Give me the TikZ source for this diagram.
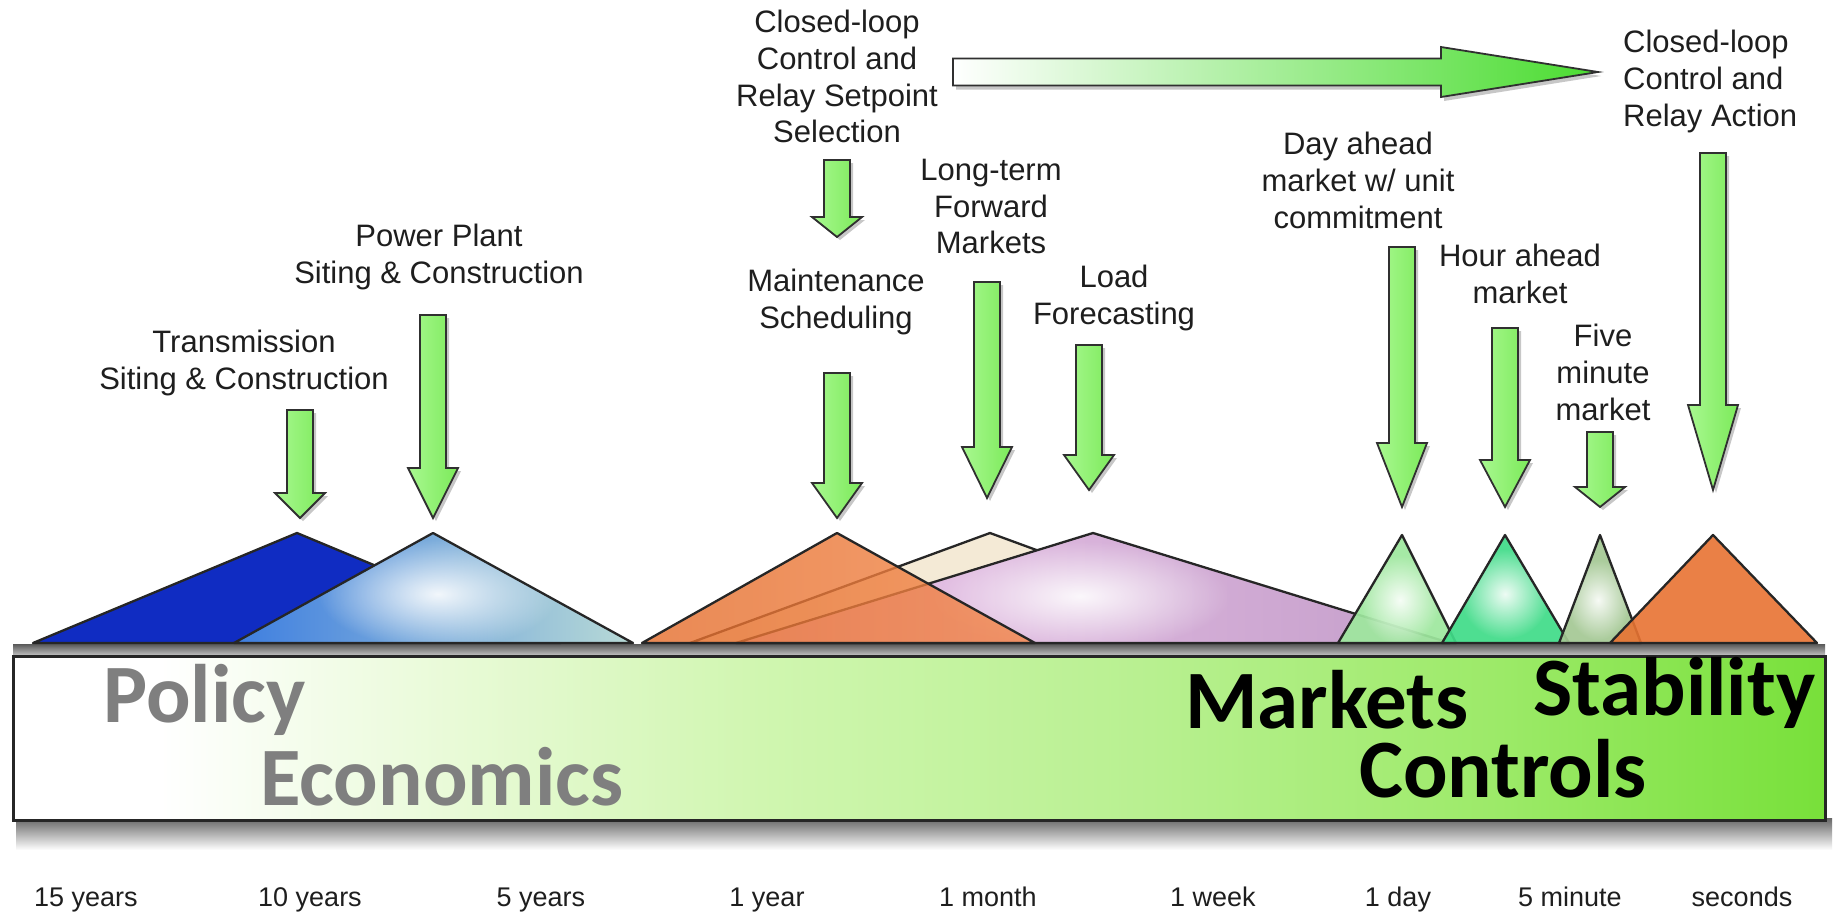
\documentclass[tikz,border=0pt]{standalone}
\usepackage{fontspec}
\setmainfont{Liberation Sans}
\newfontfamily\barfont{Carlito}
\usetikzlibrary{calc,shadows,fadings}
\definecolor{labelc}{HTML}{1E1E1E}
\definecolor{triline}{HTML}{262626}
\definecolor{arrowline}{HTML}{303030}
\definecolor{agL}{HTML}{A8F890}
\definecolor{agR}{HTML}{7CEA5A}
\definecolor{hgR}{HTML}{4ADC30}
\definecolor{blueT}{HTML}{102CC2}
\definecolor{lbL}{HTML}{3E7EE0}
\definecolor{lbR}{HTML}{B8DAD6}
\definecolor{creamT}{HTML}{F4EAD6}
\definecolor{pinkL}{HTML}{ECC6EA}
\definecolor{pinkR}{HTML}{C49ECA}
\definecolor{orangeL}{HTML}{E46C2A}
\definecolor{orangeR}{HTML}{F4884A}
\definecolor{greenA}{HTML}{9EE89E}
\definecolor{greenB}{HTML}{40DC88}
\definecolor{greenC}{HTML}{A4C894}
\definecolor{barA}{HTML}{E8FAD6}
\definecolor{barB}{HTML}{D0F6B0}
\definecolor{barC}{HTML}{B8F090}
\definecolor{barD}{HTML}{9CEA68}
\definecolor{barE}{HTML}{78E03A}
\definecolor{grayT}{HTML}{7F7F7F}
\tikzfading[name=glowfade, inner color=transparent!0, outer color=transparent!100]
\newcommand{\downblock}[3]{%
  \path[blockarrow] ($(#1)+(-13,0)$) -- ($(#2)+(-13,-#3)$) -- ($(#2)+(-25,-#3)$) -- (#2)
    -- ($(#2)+(25,-#3)$) -- ($(#2)+(13,-#3)$) -- ($(#1)+(13,0)$) -- cycle;}
\newcommand{\glowtri}[6]{%
  \path[#1] #2 -- #3 -- #4 -- cycle;
  \begin{scope}
    \clip #2 -- #3 -- #4 -- cycle;
    \fill[white, path fading=glowfade, fill opacity=0.9] #5 ellipse [#6];
  \end{scope}
  \draw[triedge] #2 -- #3 -- #4 -- cycle;}
\begin{document}
\begin{tikzpicture}[x=1pt,y=-1pt,
  lbl/.style={anchor=north, inner sep=0pt, align=center, text=labelc,
    font=\fontsize{31}{36.7}\selectfont},
  tlbl/.style={anchor=base, inner sep=0pt, text=labelc, font=\fontsize{27}{30}\selectfont},
  bartxt/.style={anchor=base west, inner sep=0pt, font=\barfont\bfseries\fontsize{83}{90}\selectfont},
  triedge/.style={draw=triline, line width=2.3pt, line join=round},
  blockarrow/.style={draw=arrowline, line width=1.8pt, line join=miter,
    left color=agL, right color=agR,
    drop shadow={shadow xshift=3pt, shadow yshift=-3pt, opacity=0.22, fill=black}},
  hblock/.style={draw=arrowline, line width=1.8pt, line join=miter,
    left color=white, right color=hgR,
    drop shadow={shadow xshift=3pt, shadow yshift=-4pt, opacity=0.22, fill=black}}]
\useasboundingbox (0,0) rectangle (1837,914);
\fill[white] (0,0) rectangle (1837,914);

% ---- labels ----
\node[lbl] (lblT) at (244,330) {Transmission\\Siting \& Construction};
\node[lbl] (lblP) at (439,224) {Power Plant\\Siting \& Construction};
\node[lbl] (lblS) at (837,10) {Closed-loop\\Control and\\Relay Setpoint\\Selection};
\node[lbl] (lblM) at (836,269) {Maintenance\\Scheduling};
\node[lbl] (lblL) at (991,159) {Long-term\\Forward\\Markets};
\node[lbl] (lblF) at (1114,265) {Load\\Forecasting};
\node[lbl] (lblD) at (1358,132) {Day ahead\\market w/ unit\\commitment};
\node[lbl] (lblH) at (1520,244) {Hour ahead\\market};
\node[lbl] (lblV) at (1603,324) {Five\\minute\\market};
\node[lbl, anchor=north west, align=left] (lblR) at (1623,30) {Closed-loop\\Control and\\Relay Action};

% ---- arrow coordinates ----
\coordinate (aT1) at (300,410);  \coordinate (aT2) at (300,518);
\coordinate (aP1) at (433,315);  \coordinate (aP2) at (433,518);
\coordinate (aS1) at (837,160);  \coordinate (aS2) at (837,237);
\coordinate (aM1) at (837,373);  \coordinate (aM2) at (837,518);
\coordinate (aL1) at (987,282);  \coordinate (aL2) at (987,498);
\coordinate (aF1) at (1089,345); \coordinate (aF2) at (1089,490);
\coordinate (aD1) at (1402,247); \coordinate (aD2) at (1402,507);
\coordinate (aH1) at (1505,328); \coordinate (aH2) at (1505,507);
\coordinate (aV1) at (1600,432); \coordinate (aV2) at (1600,507);
\coordinate (aR1) at (1713,153); \coordinate (aR2) at (1713,490);
\coordinate (hL) at (953,72);    \coordinate (hR) at (1598,72);

% ---- horizontal arrow ----
\path[hblock] ($(hL)+(0,-13.5)$) -- ($(hR)+(-157,-13.5)$) -- ($(hR)+(-157,-25)$) -- (hR)
  -- ($(hR)+(-157,25)$) -- ($(hR)+(-157,13.5)$) -- ($(hL)+(0,13.5)$) -- cycle;

% ---- down arrows ----
\downblock{aT1}{aT2}{25}
\downblock{aP1}{aP2}{50}
\downblock{aS1}{aS2}{20}
\downblock{aM1}{aM2}{35}
\downblock{aL1}{aL2}{51}
\downblock{aF1}{aF2}{35}
\downblock{aD1}{aD2}{64}
\downblock{aH1}{aH2}{47}
\downblock{aV1}{aV2}{20}
\downblock{aR1}{aR2}{85}

% ---- bar shadow and top band ----
\shade[top color=black!60, bottom color=white] (16,818) rectangle (1832,850);
\shade[top color=black!65, bottom color=black!22] (13,644) rectangle (1825,656);

% ---- triangles ----
\path[triedge, fill=blueT] (33,643) -- (297,533) -- (561,643) -- cycle;
\glowtri{left color=lbL, right color=lbR}{(234,643)}{(433,533)}{(633,643)}{(438,594)}{x radius=120, y radius=55}
\path[triedge, fill=creamT] (690,643) -- (990,533) -- (1290,643) -- cycle;
\glowtri{left color=pinkL, right color=pinkR}{(736,643)}{(1093,533)}{(1450,643)}{(1080,596)}{x radius=150, y radius=55}
\path[triedge, left color=orangeL, right color=orangeR, fill opacity=0.8] (642,643) -- (837,533) -- (1035,643) -- cycle;
\glowtri{fill=greenA, fill opacity=0.92}{(1338,643)}{(1402,535)}{(1456,643)}{(1400,600)}{x radius=40, y radius=45}
\glowtri{fill=greenB, fill opacity=0.92}{(1442,643)}{(1505,535)}{(1569,643)}{(1505,594)}{x radius=45, y radius=45}
\glowtri{fill=greenC, fill opacity=0.92}{(1559,643)}{(1600,535)}{(1641,643)}{(1598,600)}{x radius=32, y radius=40}
\path[triedge, fill=orangeL!75!orangeR, fill opacity=0.9] (1610,643) -- (1713,535) -- (1817,643) -- cycle;

% ---- bar ----
\fill[white] (13,656) rectangle (161,820);
\shade[left color=white, right color=barA] (160,656) rectangle (461,820);
\shade[left color=barA, right color=barB] (460,656) rectangle (761,820);
\shade[left color=barB, right color=barC] (760,656) rectangle (1151,820);
\shade[left color=barC, right color=barD] (1150,656) rectangle (1501,820);
\shade[left color=barD, right color=barE] (1500,656) rectangle (1825,820);
\draw[line width=3pt, black!85] (13,656) rectangle (1825,820);

\node[bartxt, text=grayT] (txPolicy) at (103,722) {Policy};
\node[bartxt, text=grayT] (txEcon) at (260,805) {Economics};
\node[bartxt, text=black] (txMarkets) at (1185,728) {Markets};
\node[bartxt, text=black] (txStab) at (1533,715) {Stability};
\node[bartxt, text=black] (txCtrl) at (1359,797) {Controls};

% ---- time scale ----
\node[tlbl] (t15) at (86,906) {15 years};
\node[tlbl] (t10) at (310,906) {10 years};
\node[tlbl] (t5) at (541,906) {5 years};
\node[tlbl] (t1y) at (767,906) {1 year};
\node[tlbl] (t1m) at (988,906) {1 month};
\node[tlbl] (t1w) at (1213,906) {1 week};
\node[tlbl] (t1d) at (1398,906) {1 day};
\node[tlbl] (t5m) at (1570,906) {5 minute};
\node[tlbl] (tsec) at (1742,906) {seconds};
\end{tikzpicture}
\end{document}
